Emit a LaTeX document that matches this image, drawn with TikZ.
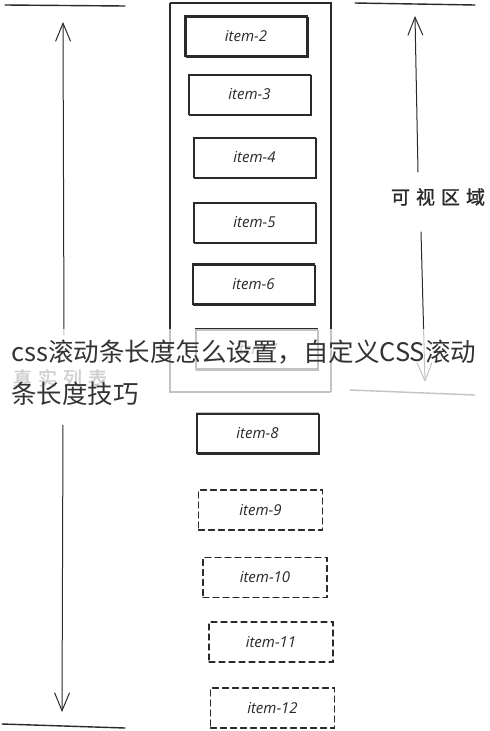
\documentclass[tikz,border=0pt]{standalone}
\usepackage{fontspec}
\newfontfamily\cjk{Noto Sans CJK SC}
\newfontfamily\cjkb[FakeBold=1.2]{Noto Sans CJK SC}
\newfontfamily\hand{Open Sans}
\usetikzlibrary{arrows.meta}
\definecolor{ink}{HTML}{2A2A2A}
\definecolor{wm}{HTML}{333333}
\tikzset{
  ink/.style={draw=ink, line width=1.1pt, line cap=round},
  itembox/.style={ink, minimum width=122pt, minimum height=40pt, inner sep=0pt,
    font=\hand\itshape\fontsize{15}{17}\selectfont, text=ink,
    postaction={draw=ink, line width=0.4pt, transform canvas={shift={(0.9pt,-0.8pt)}}}},
  ghostbox/.style={ink, dash pattern=on 6pt off 4pt, minimum width=124pt, minimum height=40pt, inner sep=0pt,
    font=\hand\itshape\fontsize{15}{17}\selectfont, text=ink},
  frame/.style={ink, line width=1pt,
    postaction={draw=ink, line width=0.5pt, transform canvas={shift={(1.2pt,0.8pt)}}}},
  rule/.style={ink, line width=1.4pt},
  sarrow/.style={ink, line width=1pt, -{Straight Barb[length=18pt,width=15pt,line width=1pt]}},
  lbl/.style={font=\cjkb\fontsize{19}{22}\selectfont, text=ink, inner sep=1pt}
}
\begin{document}
\begin{tikzpicture}[x=1pt,y=-1pt]
\useasboundingbox (0,0) rectangle (490,731);
\fill[white] (0,0) rectangle (490,731);

% container (viewport)
\node[frame, minimum width=161pt, minimum height=389pt, inner sep=0pt] (view) at (249.5,197.5) {};

% items
\node[itembox] (i2) at (246,36) {item-2};
\node[itembox] (i3) at (249.5,94.5) {item-3};
\node[itembox] (i4) at (254.5,157.5) {item-4};
\node[itembox] (i5) at (254.5,222.5) {item-5};
\node[itembox] (i6) at (253.5,284) {item-6};
\node[itembox] (i7) at (256.5,349) {item-7};
\node[itembox] (i8) at (257.5,433) {item-8};
\node[ghostbox] (i9) at (260.5,510) {item-9};
\node[ghostbox] (i10) at (265,577.5) {item-10};
\node[ghostbox] (i11) at (271,642) {item-11};
\node[ghostbox] (i12) at (272.5,708) {item-12};

% left: real list
\coordinate (lt1) at (5,5);   \coordinate (lt2) at (125,6);
\coordinate (lb1) at (2,724); \coordinate (lb2) at (125,728);
\draw[rule] (lt1) -- (lt2);
\draw[rule] (lb1) -- (lb2);
\node[lbl, text=ink!80] (real) at (60,378) {真\hspace{6pt}实\hspace{6pt}列\hspace{6pt}表};
\coordinate (lu0) at (64,335); \coordinate (lu1) at (63,22);
\coordinate (ld0) at (63,425); \coordinate (ld1) at (62,712);
\draw[sarrow] (lu0) -- (lu1);
\draw[sarrow] (ld0) -- (ld1);

% right: visible area
\coordinate (rt1) at (355,3);   \coordinate (rt2) at (475,5);
\coordinate (rb1) at (350,390); \coordinate (rb2) at (475,395);
\draw[rule] (rt1) -- (rt2);
\draw[rule] (rb1) -- (rb2);
\node[lbl] (vis) at (438,197) {可\hspace{6pt}视\hspace{6pt}区\hspace{6pt}域};
\coordinate (ru0) at (418,172); \coordinate (ru1) at (415,16);
\coordinate (rd0) at (421,232); \coordinate (rd1) at (425,382);
\draw[sarrow] (ru0) -- (ru1);
\draw[sarrow] (rd0) -- (rd1);

% title overlay
\fill[white, opacity=0.72] (0,329) rectangle (490,413);
\node[anchor=north west, align=left, inner sep=0pt, text=wm,
  font=\cjk\fontsize{25.5}{42}\selectfont] (title) at (11,340)
  {css滚动条长度怎么设置，自定义CSS滚动\\条长度技巧};
\end{tikzpicture}
\end{document}
